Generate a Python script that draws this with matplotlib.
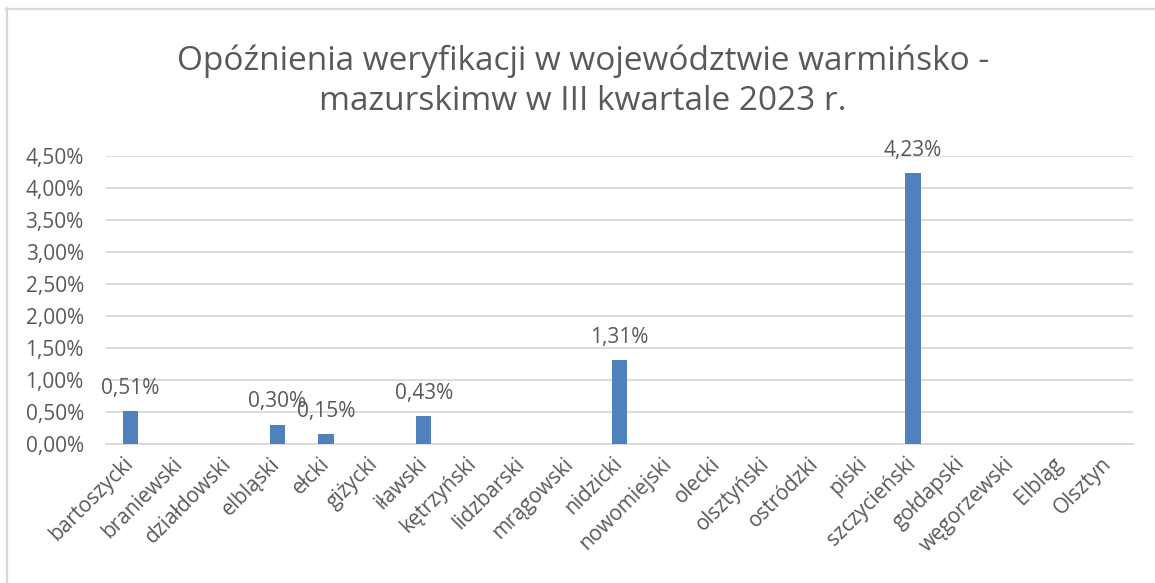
import matplotlib
matplotlib.use("Agg")
import matplotlib.pyplot as plt
from matplotlib.lines import Line2D
import numpy as np

categories = ["bartoszycki", "braniewski", "działdowski", "elbląski", "ełcki",
              "giżycki", "iławski", "kętrzyński", "lidzbarski", "mrągowski",
              "nidzicki", "nowomiejski", "olecki", "olsztyński", "ostródzki",
              "piski", "szczycieński", "gołdapski", "węgorzewski", "Elbląg", "Olsztyn"]
values = [0.0051, None, None, 0.0030, 0.0015, None, 0.0043, None, None, None,
          0.0131, None, None, None, None, None, 0.0423, None, None, None, None]
yticks = [0.0, 0.005, 0.01, 0.015, 0.02, 0.025, 0.03, 0.035, 0.04, 0.045]
title = "Opóźnienia weryfikacji w województwie warmińsko -\nmazurskimw w III kwartale 2023 r."

plt.rcParams['font.family'] = ['Open Sans', 'DejaVu Sans']
W, H = 1155, 583
fig = plt.figure(figsize=(W / 100, H / 100), dpi=100)
ax = fig.add_axes([106 / W, 1 - 444 / H, (1133 - 106) / W, (444 - 156) / H])

txt = '#595959'
x = np.arange(len(categories))
vals = np.array([np.nan if v is None else v for v in values])
bars = ax.bar(x, np.nan_to_num(vals), width=0.31, color='#4F81BD', zorder=3)
for xi, v in zip(x, vals):
    if not np.isnan(v):
        ax.annotate(f"{v*100:.2f}%".replace('.', ','), (xi, v), xytext=(0, 9),
                    textcoords='offset points', ha='center', va='bottom',
                    fontsize=15, color=txt)

ax.set_xlim(-0.5, len(categories) - 0.5)
ax.set_ylim(0, 0.045)
ax.set_yticks(yticks)
ax.set_yticklabels([f"{t*100:.2f}%".replace('.', ',') for t in yticks])
ax.set_xticks(x)
ax.set_xticklabels(categories, rotation=45, ha='right', va='center', rotation_mode='anchor')
ax.tick_params(axis='both', length=0, labelsize=15, labelcolor=txt)
ax.tick_params(axis='y', pad=16)
ax.tick_params(axis='x', pad=12)
ax.grid(axis='y', color='#D9D9D9', linewidth=1.3, zorder=0)
for s in ['top', 'right', 'left']:
    ax.spines[s].set_visible(False)
ax.spines['bottom'].set_color('#D9D9D9')
ax.spines['bottom'].set_linewidth(1.3)

fig.text(583 / W, 1 - 81 / H, title, ha='center', va='center', fontsize=24,
         color=txt, linespacing=1.27)

fig.add_artist(Line2D([6.5 / W, 6.5 / W], [0, 1 - 8 / H], color='#D9D9D9', lw=1.6,
                      transform=fig.transFigure))
fig.add_artist(Line2D([6 / W, 1], [1 - 8.5 / H, 1 - 8.5 / H], color='#D9D9D9', lw=1.6,
                      transform=fig.transFigure))

fig.savefig('out.png', dpi=100, facecolor='white')
